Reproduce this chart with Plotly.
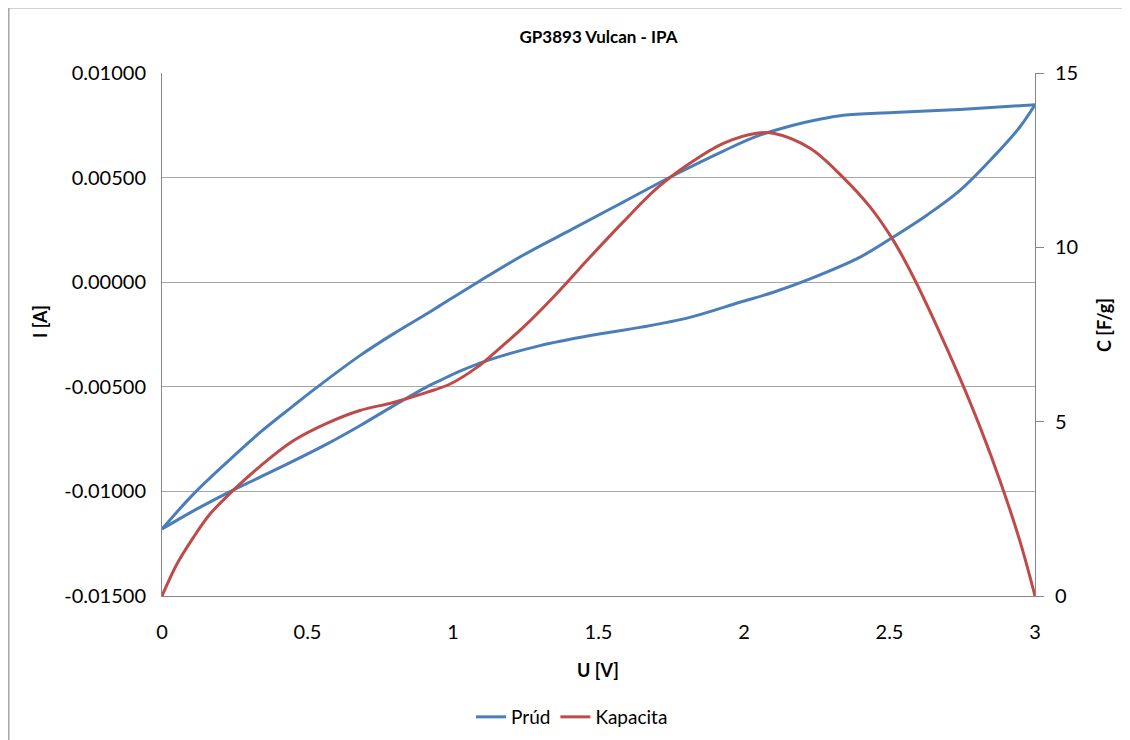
import plotly.graph_objects as go

# Prúd (current) - CV loop: forward branch then reverse branch
u_fwd = [0.000, 0.108, 0.222, 0.337, 0.451, 0.532, 0.680, 0.795, 0.910, 0.955, 1.085,
         1.242, 1.413, 1.585, 1.757, 1.929, 2.043, 2.169, 2.247, 2.341, 2.513, 2.742, 3.000]
i_fwd = [-0.01180, -0.01013, -0.00862, -0.00718, -0.00591, -0.00503, -0.00351, -0.00247,
         -0.00151, -0.00112, 0.00000, 0.00130, 0.00256, 0.00383, 0.00510, 0.00627,
         0.00697, 0.00750, 0.00775, 0.00798, 0.00811, 0.00826, 0.00848]
u_rev = [3.000, 2.948, 2.857, 2.742, 2.627, 2.513, 2.399, 2.227, 2.101, 1.986, 1.814,
         1.643, 1.471, 1.299, 1.127, 1.024, 0.955, 0.910, 0.795, 0.680, 0.566, 0.394,
         0.251, 0.108, 0.000]
i_rev = [0.00848, 0.00742, 0.00599, 0.00439, 0.00319, 0.00216, 0.00120, 0.00016,
         -0.00048, -0.00096, -0.00168, -0.00216, -0.00255, -0.00303, -0.00370, -0.00425,
         -0.00470, -0.00500, -0.00591, -0.00686, -0.00774, -0.00894, -0.00989, -0.01093,
         -0.01180]

# Kapacita (capacity)
u_cap = [0.000, 0.051, 0.108, 0.165, 0.251, 0.337, 0.451, 0.566, 0.680, 0.795, 0.910,
         0.990, 1.081, 1.139, 1.242, 1.356, 1.471, 1.585, 1.700, 1.814, 1.929, 2.043,
         2.101, 2.227, 2.341, 2.433, 2.513, 2.582, 2.662, 2.742, 2.811, 2.880,
         2.948, 3.000]
c_cap = [0.00, 0.91, 1.68, 2.35, 3.08, 3.72, 4.45, 4.95, 5.32, 5.55, 5.84,
         6.08, 6.55, 6.95, 7.71, 8.67, 9.72, 10.73, 11.69, 12.41, 12.98, 13.27,
         13.27, 12.84, 12.00, 11.16, 10.20, 9.15, 7.75, 6.25, 4.85, 3.30,
         1.58, 0.00]

x_ticks = [0, 0.5, 1, 1.5, 2, 2.5, 3]
x_tick_labels = ["0", "0.5", "1", "1.5", "2", "2.5", "3"]
y_ticks = [-0.015, -0.010, -0.005, 0.0, 0.005, 0.010]
y_tick_labels = ["-0.01500", "-0.01000", "-0.00500", "0.00000", "0.00500", "0.01000"]
y2_ticks = [0, 5, 10, 15]

BLUE = "#4A7EBB"
RED = "#BE4B48"
FONT = "Lato"

fig = go.Figure()
fig.add_trace(go.Scatter(
    x=u_fwd + [None] + u_rev, y=i_fwd + [None] + i_rev,
    mode="lines", name="Prúd", connectgaps=False,
    line=dict(color=BLUE, width=3, shape="spline", smoothing=1.0),
))
fig.add_trace(go.Scatter(
    x=u_cap, y=c_cap, yaxis="y2",
    mode="lines", name="Kapacita",
    line=dict(color=RED, width=3, shape="spline", smoothing=1.0),
))

OFF = 8  # page offset of the figure inside the browser window
W, H = 1130, 740
# target plot area in screen pixels
PX0, PX1, PY0, PY1 = 162, 1035, 73, 596
L, T = PX0 - OFF, PY0 - OFF
R, B = W - (PX1 - OFF), H - (PY1 - OFF)
pw, ph = W - L - R, H - T - B

def px(xs):
    return (xs - OFF - L) / pw

def py(ys):
    return (H - B - (ys - OFF)) / ph

fig.update_layout(
    width=W, height=H,
    margin=dict(l=L, r=R, t=T, b=B, autoexpand=False),
    paper_bgcolor="white", plot_bgcolor="white",
    font=dict(family=FONT, size=20, color="black"),
    title=dict(text="<b>GP3893 Vulcan - IPA</b>", x=(L + pw / 2) / W, xanchor="center",
               y=1 - (37 - OFF) / H, yanchor="middle", font=dict(family=FONT, size=17)),
    xaxis=dict(range=[0, 3], tickvals=x_ticks, ticktext=x_tick_labels,
               showgrid=False, zeroline=False, showline=True, linecolor="#868686",
               linewidth=1, ticks="", ticklabelstandoff=18,
               tickfont=dict(size=20)),
    yaxis=dict(range=[-0.015, 0.010], tickvals=y_ticks, ticktext=y_tick_labels,
               showgrid=True, gridcolor="#A6A6A6", gridwidth=1, zeroline=False,
               showline=True, linecolor="#868686", linewidth=1, ticks="",
               ticklabelstandoff=11, tickfont=dict(size=20)),
    yaxis2=dict(range=[0, 15], tickvals=y2_ticks, overlaying="y", side="right",
                showgrid=False, zeroline=False, showline=True, linecolor="#868686",
                linewidth=1, ticks="outside", ticklen=8, tickcolor="#868686",
                ticklabelstandoff=7, tickfont=dict(size=20)),
    showlegend=True,
    legend=dict(orientation="h", x=px(572), xanchor="center", y=py(717), yanchor="middle",
                font=dict(size=19), bgcolor="rgba(0,0,0,0)"),
    annotations=[
        dict(text="<b>I [A]</b>", xref="paper", yref="paper", x=px(40), y=py(322),
             textangle=-90, showarrow=False, font=dict(size=18), xanchor="center",
             yanchor="middle"),
        dict(text="<b>C [F/g]</b>", xref="paper", yref="paper", x=px(1104), y=py(325),
             textangle=-90, showarrow=False, font=dict(size=18), xanchor="center",
             yanchor="middle"),
        dict(text="<b>U [V]</b>", xref="paper", yref="paper", x=px(598), y=py(670),
             showarrow=False, font=dict(size=18), xanchor="center", yanchor="middle"),
    ],
    shapes=[
        dict(type="rect", xref="paper", yref="paper", x0=px(8.75), x1=px(1150),
             y0=py(760), y1=py(7.75), line=dict(color="#A6A6A6", width=1.5),
             fillcolor="rgba(0,0,0,0)", layer="below"),
    ],
)

fig.write_html("out.html")
